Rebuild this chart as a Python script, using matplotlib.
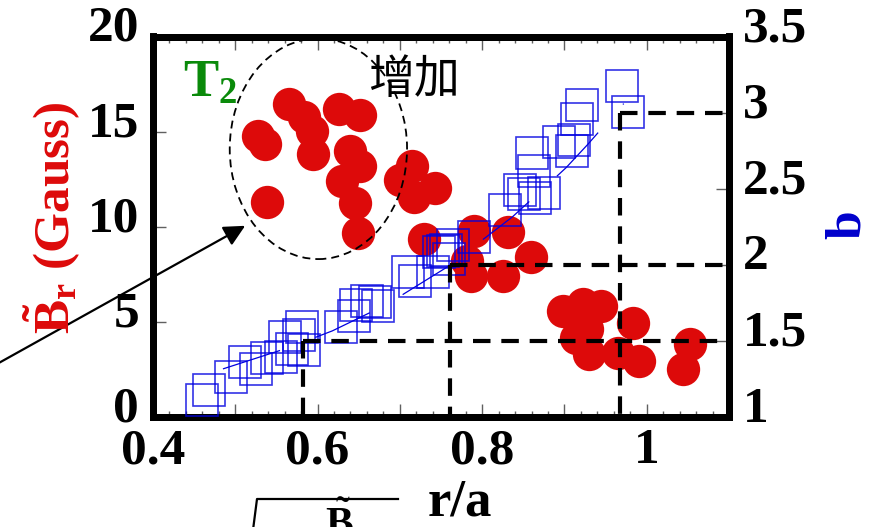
import matplotlib
matplotlib.use('Agg')
import matplotlib.pyplot as plt
import matplotlib.transforms as mtransforms
from matplotlib.patches import Ellipse
from matplotlib.lines import Line2D
from matplotlib.ticker import MultipleLocator

plt.rcParams['mathtext.fontset'] = 'custom'
plt.rcParams['mathtext.rm'] = 'Liberation Serif'
plt.rcParams['mathtext.bf'] = 'Liberation Serif:bold'
plt.rcParams['mathtext.it'] = 'Liberation Serif:italic'

# ---------------- data ----------------
red_x = [0.565, 0.583, 0.593, 0.528, 0.536, 0.595, 0.640, 0.652, 0.626, 0.652,
         0.630, 0.646, 0.538, 0.649, 0.715, 0.700, 0.717, 0.743, 0.729, 0.790,
         0.831, 0.782, 0.786, 0.825, 0.859, 0.898, 0.922, 0.944, 0.983, 0.914,
         0.928, 0.930, 0.965, 0.991, 1.052, 1.044]
red_br = [16.45, 15.75, 15.04, 14.78, 14.34, 13.82, 13.97, 13.18, 16.18, 15.87,
          12.41, 11.27, 11.31, 9.66, 13.20, 12.46, 11.54, 12.06, 9.34, 9.76,
          9.71, 8.18, 7.39, 7.39, 8.39, 5.57, 5.92, 5.83, 4.96, 4.17,
          4.61, 3.29, 3.38, 2.94, 3.82, 2.50]

sq_x = [0.460, 0.468, 0.495, 0.512, 0.525, 0.539, 0.555, 0.560, 0.569, 0.577,
        0.581, 0.583, 0.629, 0.644, 0.647, 0.660, 0.670, 0.673, 0.710, 0.719,
        0.740, 0.748, 0.752, 0.756, 0.760, 0.764, 0.790, 0.828, 0.846, 0.851,
        0.864, 0.875, 0.863, 0.860, 0.893, 0.909, 0.912, 0.915, 0.921, 0.970,
        0.977]
sq_b = [1.111, 1.180, 1.264, 1.362, 1.315, 1.389, 1.391, 1.526, 1.446, 1.541,
        1.592, 1.441, 1.593, 1.666, 1.737, 1.760, 1.758, 1.729, 1.955, 1.893,
        1.952, 2.081, 2.088, 2.099, 2.040, 2.127, 2.180, 2.358, 2.492, 2.466,
        2.437, 2.472, 2.619, 2.737, 2.809, 2.745, 2.822, 2.957, 3.053, 3.176,
        3.005]

fit_x = [0.485, 0.564, 0.618, 0.668, 0.695, 0.758, 0.837, 0.877, 0.902, 0.928, 0.972]
fit_b = [1.316, 1.454, 1.566, 1.697, 1.776, 1.987, 2.316, 2.513, 2.638, 2.789, 3.059]

guide_x = [0.582, 0.761, 0.967]
guide_b = [1.5, 2.0, 3.0]

x_ticks = [0.4, 0.5, 0.6, 0.7, 0.8, 0.9, 1.0, 1.1]
x_tick_labels = ['0.4', '', '0.6', '', '0.8', '', '1', '']
yl_ticks = [0, 5, 10, 15, 20]
yl_tick_labels = ['0', '5', '10', '15', '20']
yr_ticks = [1, 1.5, 2, 2.5, 3, 3.5]
yr_tick_labels = ['1', '1.5', '2', '2.5', '3', '3.5']

# ---------------- figure ----------------
W, H = 874, 527
fig = plt.figure(figsize=(W / 100, H / 100), dpi=100)


def fx(px):
    return px / W


def fy(py):
    return 1 - py / H


ax = fig.add_axes([fx(153), fy(417), fx(729) - fx(153), fy(36.5) - fy(417)])
ax2 = ax.twinx()

RED = '#dd0a0a'
BLUE = '#0000e0'
TICKC = '#606060'
tick_font = dict(family='Liberation Serif', weight='bold', size=37)

# red circles (left axis)
ax.plot(red_x, red_br, 'o', ms=24, color=RED, mec=RED, mew=0, zorder=2)

ax.set_xlim(0.4, 1.1)
ax.set_ylim(0, 20)
ax2.set_ylim(1, 3.5)

# blue squares + thin dashed fit (right axis)
ax2.plot(sq_x, sq_b, 's', ms=23, mfc='none', mec=BLUE, mew=1.2, alpha=0.8,
         ls='none', zorder=3)
ax2.plot(fit_x, fit_b, '-', color=BLUE, lw=0.9, dashes=(48, 30), zorder=3)

# black dashed guide lines
for gx, gb in zip(guide_x, guide_b):
    ax2.plot([gx, 1.1], [gb, gb], color='black', lw=3.0, dashes=(4.2, 2.6),
             zorder=5, dash_capstyle='butt')
    ax2.plot([gx, gx], [gb, 1.0], color='black', lw=3.0, dashes=(4.2, 2.6),
             zorder=5, dash_capstyle='butt')

# ticks
ax.set_xticks(x_ticks)
ax.set_xticklabels(x_tick_labels, **tick_font)
ax.xaxis.set_minor_locator(MultipleLocator(0.02))
ax.set_yticks(yl_ticks)
ax.set_yticklabels(yl_tick_labels, **tick_font)
ax2.set_yticks(yr_ticks)
ax2.set_yticklabels(yr_tick_labels, **tick_font)

ax.tick_params(axis='x', which='major', direction='in', length=9.5, width=1.0,
               color=TICKC, top=True, pad=8)
ax.tick_params(axis='x', which='minor', direction='in', length=4.5, width=1.0,
               color=TICKC, top=True)
ax.tick_params(axis='y', which='major', direction='in', length=9.5, width=1.0,
               color=TICKC, pad=10)
ax2.tick_params(axis='y', which='major', direction='in', length=9.5, width=1.0,
                color=TICKC, pad=10)

for a in (ax, ax2):
    for s in a.spines.values():
        s.set_linewidth(5.0)
        s.set_color('black')

# shift y tick labels upward like in the reference
up = mtransforms.ScaledTranslation(0, 13 / 100, fig.dpi_scale_trans)
for lbl in ax.get_yticklabels():
    lbl.set_transform(lbl.get_transform() + up)
for lbl in ax2.get_yticklabels():
    lbl.set_transform(lbl.get_transform() + up)

# ellipse annotation and arrow
ell = Ellipse((0.601, 14.1), width=0.2155, height=11.6, fill=False,
              edgecolor='black', lw=1.3, ls=(0, (4.4, 2.8)), zorder=4)
ax.add_patch(ell)
ax.annotate('', xy=(0.512, 10.05), xycoords='data',
            xytext=(fx(-12), fy(369)), textcoords='figure fraction',
            arrowprops=dict(arrowstyle='-|>', color='black', lw=1.6,
                            mutation_scale=32, shrinkA=0, shrinkB=0),
            annotation_clip=False, zorder=6)

# texts
fig.text(fx(183), fy(97), r'$\mathbf{T}_{\mathbf{2}}$', color='#0a8a0a',
         fontsize=38, ha='left', va='baseline')
fig.text(fx(414), fy(80), '增加', family='Noto Sans CJK SC', fontsize=33,
         ha='center', va='center', color='black')

fig.text(fx(52), fy(218), r'$\mathbf{\tilde{B}}_{\mathbf{r}}$ (Gauss)',
         rotation=90, color=RED, fontsize=37, family='Liberation Serif',
         weight='bold', ha='center', va='center')
fig.text(fx(848), fy(225), 'b', rotation=90, color='#0000cc', fontsize=37,
         family='Liberation Serif', weight='bold', ha='center', va='center')
fig.text(fx(460), fy(502), 'r/a', fontsize=38, family='Liberation Serif',
         weight='bold', ha='center', va='center')

# partial radical at the bottom
fig.add_artist(Line2D([fx(253), fx(257), fx(398)], [fy(530), fy(499), fy(499)],
                      transform=fig.transFigure, color='black', lw=1.6))
fig.text(fx(339), fy(503), r'$\tilde{\mathbf{B}}$', fontsize=30,
         ha='center', va='top')

fig.savefig('out.png', dpi=100)
